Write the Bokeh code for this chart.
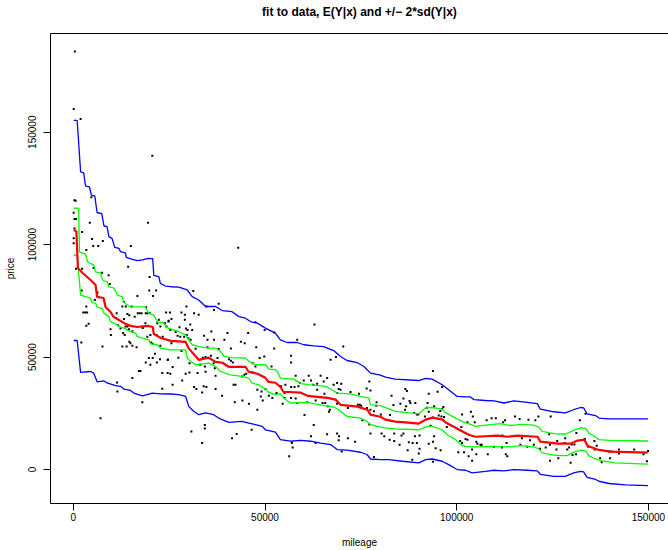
from bokeh.plotting import figure
from bokeh.models import Range1d, FixedTicker, NumeralTickFormatter, LinearAxis
from bokeh.embed import file_html
from bokeh.resources import INLINE

# ---- observed data (mileage, price) ----
mileage = [400, 100, 1900, 20600, 4700, 300, 600, 100, 300, 700, 4300, 19500, 2300, 300, 100, 100,
           4900, 7700, 5200, 6500, 15000, 43000, 3400, 14300, 7500, 9200, 19900, 9500, 2200, 6300,
           19800, 21600, 16700, 20800, 13200, 12800, 13700, 15200, 19000, 5600, 2600, 3100, 3600,
           11300, 14100, 14600, 16800, 17300, 17800, 18900, 19400, 20000, 25200, 11100, 13200, 16000,
           22300, 4000, 3400, 11700, 13600, 14100, 18800, 21900, 22700, 23900, 24300, 24800, 9700,
           12300, 13000, 14500, 15400, 18100, 9800, 13400, 19300, 20100, 21700, 23300, 2100, 7600,
           12800, 13900, 14600, 14900, 15400, 16500, 20300, 20700, 22700, 21300, 19700, 20700, 22600,
           24600, 18900, 21800, 20100, 17100, 17500, 23200, 24600, 15400, 11500, 23200, 18000, 7100,
           700, 2300, 5300, 3400, 11400, 31300, 29500, 34700, 28200, 29100, 31500, 32700, 36700,
           37900, 25600, 24900, 29100, 30500, 29400, 29800, 31000, 27700, 24200, 25300, 26700, 27200,
           27900, 28900, 29600, 30000, 30600, 36000, 34100, 35000, 36700, 39400, 40200, 44700, 43700,
           45600, 47700, 49900, 52400, 52400, 25600, 28200, 31900, 35000, 37900, 41100, 24700, 27400,
           33800, 34500, 35200, 35900, 37600, 40600, 41100, 41600, 25900, 30300, 33100, 34300, 36600,
           36900, 46800, 47500, 48600, 49800, 51700, 25300, 29300, 30300, 32400, 34500, 37100, 45100,
           46700, 44000, 44600, 28400, 41800, 42300, 34000, 34700, 25900, 31500, 32100, 33600, 37100,
           38800, 48000, 49100, 50100, 51000, 48900, 42100, 44100, 45800, 48000, 51900, 49400, 34300,
           34300, 30800, 42600, 46500, 41400, 33600, 47500, 62900, 58400, 56800, 56800, 70400, 68500,
           67100, 58000, 61400, 64500, 66200, 60100, 62000, 59100, 62600, 63600, 65300, 67900, 68800,
           69900, 54200, 55300, 56800, 57700, 58700, 63600, 69200, 69700, 68800, 55100, 53000, 72300,
           74500, 76500, 77200, 77500, 55100, 56800, 58000, 65500, 65000, 65700, 66400, 66900, 66700,
           68800, 71600, 74200, 74700, 75100, 76600, 77500, 78400, 79100, 54600, 58400, 61000, 63200,
           60300, 62700, 75400, 77200, 77500, 62000, 66200, 68800, 69300, 69200, 71600, 73500, 57000,
           57200, 63200, 70000, 56300, 78400, 93800, 86600, 87000, 95000, 96200, 83000, 92700, 86100,
           87700, 87900, 85300, 79000, 92400, 86800, 89200, 92200, 94100, 96500, 96200, 95700, 96000,
           96700, 83500, 80200, 82600, 86500, 88900, 89600, 90000, 91700, 92700, 93800, 95300, 103700,
           104200, 101400, 102800, 104700, 93200, 97400, 101200, 80400, 81100, 83700, 86100, 85600,
           89100, 90300, 94100, 82500, 83700, 87500, 88500, 89600, 85100, 92700, 93800, 100900,
           101400, 102300, 102800, 105100, 105400, 106500, 87200, 90300, 94500, 95800, 100400, 101900,
           104000, 90100, 103100, 105100, 88400, 93800, 104000, 107800, 109100, 110200, 112100, 112600,
           115200, 116400, 118700, 120500, 121300, 124500, 132100, 111900, 117000, 119100, 124100,
           126200, 128300, 128100, 129300, 130000, 130700, 131200, 106200, 109700, 111800, 113000,
           116600, 118400, 120100, 121700, 123200, 124300, 126000, 128800, 108100, 112800, 113200,
           126500, 130200, 131100, 124300, 129700, 133600, 133400, 135900, 136500, 134300, 136000,
           137400, 137800, 140000, 142300, 142300, 146300, 148700, 149900, 149600, 139800, 140400]
price = [185900, 160300, 155900, 139500, 121100, 119800, 119500, 114200, 111400, 111400, 109700, 109700,
         105600, 107200, 102900, 100600, 102500, 101600, 99400, 99400, 99400, 98600, 97600, 90200,
         87500, 86400, 85600, 82500, 79600, 78700, 79600, 79600, 77200, 77200, 74500, 72500, 72500,
         72500, 72200, 75400, 69800, 69800, 69800, 69500, 69200, 68600, 69500, 69500, 69500, 69500,
         69500, 69500, 69800, 67400, 66900, 68000, 66600, 64800, 63900, 64200, 63600, 63600, 65100,
         65100, 63600, 65100, 63600, 65800, 62400, 62700, 60700, 62400, 61500, 63000, 59800, 59800,
         59100, 59800, 59800, 59100, 56500, 54700, 54700, 54700, 56800, 56200, 55000, 54400, 56500,
         55900, 55000, 51500, 49600, 49600, 49100, 48800, 47600, 47600, 46600, 43800, 43800, 42900,
         42900, 40700, 34700, 35900, 29900, 22800, 89300, 89300, 89600, 72500, 38700, 79400, 72500,
         72500, 69800, 68800, 69500, 68800, 71000, 73700, 66900, 66200, 66600, 64500, 62700, 62100,
         62100, 63300, 69800, 62100, 61200, 59500, 59100, 59100, 59800, 58400, 57700, 61400, 59500,
         57700, 57700, 57700, 60700, 56200, 56800, 60700, 54400, 62100, 60900, 53800, 56200, 52700,
         53700, 54400, 53600, 53800, 48800, 49700, 49700, 50100, 49700, 50600, 49600, 49100, 48400,
         47600, 45600, 47300, 46600, 45800, 47300, 45100, 47300, 45800, 49600, 50300, 45800, 42600,
         42600, 43200, 42900, 43500, 41700, 42600, 43200, 41400, 42200, 39600, 37700, 37700, 37000,
         36700, 37700, 36700, 35800, 34300, 35800, 32800, 35500, 34700, 35800, 32800, 32500, 29900,
         30700, 29300, 26600, 31800, 30700, 19800, 18300, 16900, 15800, 17700, 13900, 11800, 65500,
         64500, 57700, 50600, 47600, 54700, 50000, 48800, 41700, 41700, 41700, 40700, 39600, 39600,
         38500, 37700, 38200, 39200, 37700, 38500, 38200, 37000, 37700, 36700, 36700, 37000, 35500,
         35800, 35500, 34000, 34000, 34000, 34500, 33700, 36100, 39200, 35200, 31800, 31800, 31600,
         33700, 29600, 29600, 28100, 26600, 25700, 29300, 27400, 28800, 28800, 28400, 27400, 26600,
         25900, 29900, 29300, 29600, 29900, 30700, 24300, 19800, 21900, 20000, 16000, 14800, 15700,
         16000, 14800, 13000, 13900, 12400, 11800, 9800, 11800, 8000, 5900, 5600, 43800, 35800,
         34900, 34600, 36700, 32800, 33700, 31600, 30500, 29600, 29300, 28400, 29600, 28100, 29600,
         27500, 28100, 27800, 26900, 26000, 23600, 23400, 28700, 24500, 24300, 26600, 25200, 24500,
         24500, 23600, 25700, 23100, 24000, 25700, 23600, 24500, 21000, 21000, 19500, 18900, 18900,
         16000, 14800, 16000, 16000, 15100, 14800, 15100, 14800, 13300, 12700, 12100, 11800, 11800,
         11000, 11500, 12400, 12700, 11800, 13600, 13300, 12400, 11500, 11000, 8600, 9200, 9500,
         8600, 7700, 7700, 8900, 7100, 5900, 6800, 4400, 3500, 3900, 21900, 22800, 22800, 21000,
         21900, 23600, 22500, 22200, 21900, 23600, 23600, 21900, 15100, 13900, 13000, 15700, 12700,
         13900, 11800, 9800, 11200, 11200, 16300, 11000, 10100, 9800, 11800, 11000, 10100, 11000,
         9200, 9800, 11000, 8900, 8900, 6800, 6800, 5900, 5000, 6500, 6800, 3900, 3000, 24800,
         13600, 12700, 10600, 10100, 8900, 5000, 3200, 5000, 8900, 7100, 8900, 6800, 8300, 3700,
         8000, 8000]

# ---- fitted E(Y|x) ----
mean_x = [100, 800, 1200, 2400, 4500, 5800, 6200, 7900, 8400, 9700, 10500, 11800, 13600, 14900, 16700,
          19400, 20700, 21000, 22700, 25400, 29300, 30000, 31100, 32700, 35300, 37100, 38900, 40500,
          44900, 45700, 48000, 50100, 50900, 52700, 54000, 54800, 59300, 61100, 66300, 68400, 69700,
          74100, 76700, 77500, 80100, 81400, 84000, 87400, 90000, 91900, 93700, 96300, 97100, 99700,
          101500, 103100, 104900, 110600, 113200, 115800, 121100, 121800, 126300, 129700, 131500,
          133300, 134100, 136700, 140100, 149800]
mean_y = [106500, 106000, 89600, 87400, 84300, 82100, 76800, 76300, 72300, 70100, 67900, 66600, 64800,
          63900, 63400, 63900, 63400, 60300, 58600, 57200, 56800, 54100, 51900, 48800, 49700, 47900,
          47500, 45700, 45700, 43500, 42600, 40800, 39000, 38600, 36800, 34600, 34200, 32800, 31900,
          31100, 28800, 28000, 26600, 24400, 23500, 22200, 21300, 20900, 20400, 22200, 23100, 22200,
          20900, 18600, 16900, 15500, 14600, 15100, 14600, 15100, 14600, 12400, 11500, 11500, 12900,
          13300, 10600, 8900, 8000, 7500]

# ---- inner band (green) ----
inner_hi_x = [100, 1400, 1600, 3200, 3700, 5300, 5800, 7100, 7600, 8900, 9200, 10500, 11500, 12800,
              13100, 14100, 14900, 18800, 19600, 20900, 22000, 23500, 24600, 27400, 29300, 30100,
              31000, 32700, 35300, 37100, 38400, 39300, 41400, 44900, 45800, 47500, 50100, 51000,
              52700, 53200, 54000, 57500, 59300, 61900, 65800, 67100, 68800, 72300, 74900, 77100,
              77500, 80100, 84000, 87500, 90100, 91900, 93600, 96200, 97100, 99700, 101400, 103100,
              104900, 107500, 111400, 114000, 116600, 120100, 121400, 122300, 125300, 128300, 130500,
              132300, 133600, 134400, 136200, 137100, 139700, 149900]
inner_hi_y = [116200, 116200, 96700, 95800, 92300, 91000, 87900, 87400, 84300, 83400, 81200, 80800,
              77600, 76800, 74500, 73200, 72300, 72300, 69700, 68800, 65700, 65200, 63000, 61400,
              59900, 57700, 55500, 54700, 54000, 54000, 52500, 50300, 49800, 49600, 48100, 46600,
              46600, 44700, 44400, 43600, 40700, 40200, 38200, 37700, 37000, 35800, 34000, 33700,
              32500, 31800, 28800, 28400, 25900, 25200, 24800, 27400, 27600, 26900, 25200, 22900,
              21400, 20400, 19200, 19800, 20400, 19500, 20100, 19800, 18900, 17000, 16000, 15700,
              17400, 18500, 18300, 16300, 14500, 13300, 13000, 12700]
inner_lo_x = [100, 1000, 1900, 3200, 4500, 4900, 5800, 6200, 7500, 8000, 9300, 9700, 11000, 11900,
              13200, 14500, 16200, 16700, 18000, 19700, 20100, 21900, 22700, 25400, 29300, 29700,
              30600, 31900, 35300, 37100, 38400, 40600, 44000, 45800, 46500, 48400, 50100, 51000,
              52700, 54000, 54900, 56600, 61000, 64500, 67900, 69200, 71400, 74900, 76600, 77500,
              80100, 81400, 84000, 90100, 92300, 93600, 96200, 97500, 99700, 101000, 102300, 104900,
              108800, 114000, 116600, 120100, 121400, 122300, 126200, 128800, 130500, 132300, 133600,
              134400, 136200, 137900, 141400, 149900]
inner_lo_y = [95400, 95300, 77600, 76900, 76200, 74200, 74000, 72200, 71700, 69500, 68000, 65800,
              64800, 63600, 62900, 61700, 60700, 59100, 58400, 57700, 55900, 55500, 54000, 53200,
              53200, 49600, 48100, 46600, 47300, 45800, 43600, 42200, 41400, 40700, 38500, 37700,
              35800, 34300, 33300, 33700, 31800, 29600, 29900, 28800, 27800, 26600, 23600, 22900,
              21400, 20000, 18900, 18500, 18100, 17700, 19200, 19200, 17700, 15500, 13300, 11100,
              10300, 10100, 10300, 10100, 10600, 10100, 9200, 7400, 6200, 6200, 7700, 8600, 8300,
              6200, 4700, 3900, 3000, 2400]

# ---- outer band (blue) ----
outer_hi_x = [100, 1000, 1900, 2700, 3200, 4200, 4700, 5600, 6200, 7400, 8000, 8800, 9300, 10100,
              10800, 11900, 12300, 13600, 13800, 15400, 16700, 18100, 19500, 20700, 21000, 22300,
              22700, 24000, 25400, 27500, 29700, 31000, 32700, 34500, 37100, 38800, 41400, 43200,
              44900, 46200, 48000, 50100, 52700, 54000, 55800, 58400, 60100, 62700, 65300, 67900,
              69700, 71400, 74000, 75800, 77500, 80100, 81400, 84000, 90100, 91900, 93600, 96200,
              97900, 100100, 102300, 103600, 104500, 107500, 109700, 112300, 114900, 118400, 121000,
              121800, 125300, 128300, 130500, 132300, 133100, 134000, 136200, 137100, 139700, 149900]
outer_hi_y = [155300, 155300, 132400, 131900, 126000, 125700, 122000, 121700, 114200, 113900, 108300,
              108000, 103500, 102800, 98800, 98400, 96900, 96400, 94400, 93500, 92900, 93200, 93900,
              93800, 86300, 85800, 82800, 81600, 81300, 81100, 79900, 76900, 75400, 72500, 72500,
              70700, 70200, 68000, 67300, 65800, 65100, 62900, 60700, 57700, 56500, 56500, 55500,
              55000, 54700, 52900, 50300, 48500, 47600, 45800, 42900, 42000, 41100, 40200, 39600,
              40500, 40200, 37700, 35500, 32500, 32300, 32300, 31100, 30700, 30500, 29600, 30500,
              29900, 29300, 26900, 25700, 25200, 26600, 27600, 27400, 24800, 24000, 22900, 22500,
              22500]
outer_lo_x = [100, 1000, 1900, 4500, 5300, 6200, 8000, 8800, 11000, 12300, 13200, 14900, 15800, 18000,
              19300, 20600, 22700, 25400, 27500, 29300, 30100, 31400, 32700, 34500, 36600, 37900,
              38800, 40600, 44000, 45800, 47500, 49300, 50100, 52700, 54000, 56600, 59300, 61900,
              64500, 67100, 68800, 71400, 74900, 76600, 77500, 80100, 82300, 85800, 90100, 91900,
              93600, 96200, 97900, 100100, 102300, 104000, 107500, 109700, 112300, 114900, 118400,
              121000, 121800, 125300, 128300, 130500, 132300, 133100, 134000, 136200, 137100,
              139700, 144000, 149900]
outer_lo_y = [57400, 57400, 43200, 43600, 42900, 39000, 39400, 38500, 37300, 37000, 35800, 35200,
              34000, 32800, 33300, 34000, 33700, 33600, 33300, 32500, 28100, 25900, 24400, 25200,
              24400, 22900, 22200, 21000, 21400, 20700, 20000, 19200, 17700, 16600, 13300, 12600,
              13000, 12600, 11800, 11100, 8900, 8600, 7700, 6700, 4700, 4400, 4400, 3700, 3000, 4400,
              4700, 3700, 2200, 0, -300, -1500, -800, -300, -600, 0, -300, -600, -2100, -3000,
              -3000, -1500, -800, -1000, -3500, -4400, -5200, -6200, -6800, -7100]

x_ticks = [0, 50000, 100000, 150000]
y_ticks = [0, 50000, 100000, 150000]
title_text = "fit to data, E(Y|x) and +/\u2212 2*sd(Y|x)"

FONT = "Liberation Sans"

p = figure(width=668, height=550,
           x_range=Range1d(-5950, 155230), y_range=Range1d(-15090, 193900),
           output_backend="svg", toolbar_location=None,
           min_border_left=50, min_border_right=0, min_border_top=33, min_border_bottom=46)
p.outline_line_color = None
p.grid.visible = False
p.background_fill_color = "white"
p.border_fill_color = "white"

for ax in (p.xaxis[0], p.yaxis[0]):
    ax.formatter = NumeralTickFormatter(format="0")
    ax.major_tick_out = 7
    ax.major_tick_in = 0
    ax.minor_tick_line_color = None
    ax.axis_line_color = "black"
    ax.major_tick_line_color = "black"
    ax.major_label_text_font = FONT
    ax.major_label_text_font_size = "10px"
    ax.major_label_text_color = "black"
    ax.axis_label_text_font = FONT
    ax.axis_label_text_font_size = "10px"
    ax.axis_label_text_font_style = "normal"
    ax.axis_label_text_color = "black"

p.xaxis.ticker = FixedTicker(ticks=x_ticks)
p.yaxis.ticker = FixedTicker(ticks=y_ticks)
p.xaxis.axis_label = "mileage"
p.yaxis.axis_label = "price"
p.xaxis.major_label_standoff = 2
p.xaxis.axis_label_standoff = 13
p.yaxis.major_label_orientation = "vertical"
p.yaxis.major_label_standoff = 7
p.yaxis.axis_label_standoff = 10

top = LinearAxis(ticker=FixedTicker(ticks=[]), axis_label=title_text,
                 axis_label_text_font=FONT, axis_label_text_font_size="12px",
                 axis_label_text_font_style="bold", axis_label_text_color="black",
                 axis_label_standoff=15, major_label_standoff=0,
                 major_tick_out=0, major_tick_in=0, minor_tick_out=0, minor_tick_in=0,
                 axis_line_color="black")
p.add_layout(top, "above")

p.scatter(mileage, price, marker="square", size=2, color="black", line_width=0)
p.line(outer_hi_x, outer_hi_y, line_color="#0000FF", line_width=1.3)
p.line(outer_lo_x, outer_lo_y, line_color="#0000FF", line_width=1.3)
p.line(inner_hi_x, inner_hi_y, line_color="#00FF00", line_width=1.3)
p.line(inner_lo_x, inner_lo_y, line_color="#00FF00", line_width=1.3)
p.line(mean_x, mean_y, line_color="#FF0000", line_width=2.2)

open("out.html", "w").write(file_html(p, INLINE))
